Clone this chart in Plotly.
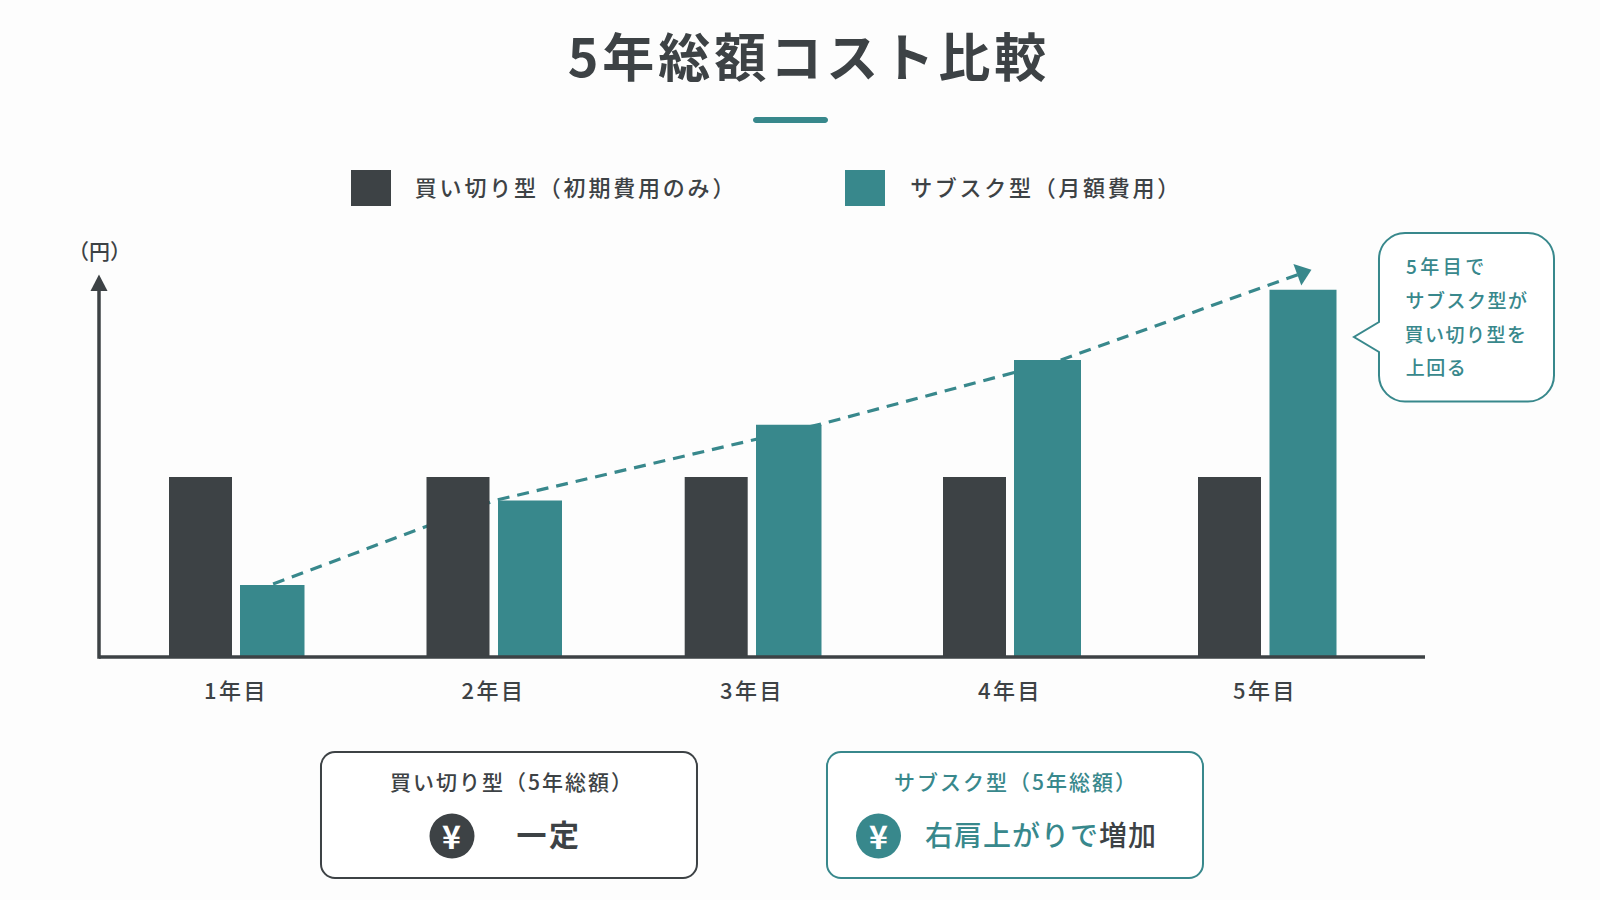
import json
import plotly.graph_objects as go

# Chart data (arbitrary cost units: the one-time purchase is 100)
categories = [0, 1, 2, 3, 4]
tick_positions = [0, 1, 2.004, 3.006, 3.996]
tick_labels = ["1年目", "2年目", "3年目", "4年目", "5年目"]
one_time_cost = [100, 100, 100, 100, 100]
subscription_cost = [40, 87, 129, 165, 204]
trend_x = [0.144, 1.006, 2.272, 3.204, 4.14]
trend_y = [40.5, 87, 129.4, 165, 213.3]

DARK = "#3d4245"
TEAL = "#38888c"
BG = "#fdfdfd"
FONT = "Noto Sans CJK JP"
W, H = 1600, 900

# Plot frame and scale, in pixels
BASE_Y = 657
TOP_Y = 258
LEFT_X, RIGHT_X = 99, 1425
PX_PER_STEP = 257.5
FIRST_X = 236
PX_PER_UNIT = 1.8

# Bar placement within each year, in pixels relative to the year's centre
dark_offset = [-67, -67, -66.3, -65.5, -68]
dark_width = [63, 63, 63, 63, 63]
teal_offset = [4, 4.5, 5, 5.5, 3.5]
teal_width = [64.5, 64, 65.5, 67, 67]


def px(x):
    return x / W


def py(y):
    return 1 - y / H


def p(x, y):
    return f"{px(x):.5f},{py(y):.5f}"


def round_rect(x0, y0, x1, y1, r):
    k = 0.45 * r
    return (
        f"M{p(x0 + r, y0)} L{p(x1 - r, y0)} C{p(x1 - k, y0)} {p(x1, y0 + k)} {p(x1, y0 + r)} "
        f"L{p(x1, y1 - r)} C{p(x1, y1 - k)} {p(x1 - k, y1)} {p(x1 - r, y1)} "
        f"L{p(x0 + r, y1)} C{p(x0 + k, y1)} {p(x0, y1 - k)} {p(x0, y1 - r)} "
        f"L{p(x0, y0 + r)} C{p(x0, y0 + k)} {p(x0 + k, y0)} {p(x0 + r, y0)} Z"
    )


def callout(x0, y0, x1, y1, r, tip_x, tip_y, base0, base1):
    k = 0.45 * r
    return (
        f"M{p(x0 + r, y0)} L{p(x1 - r, y0)} C{p(x1 - k, y0)} {p(x1, y0 + k)} {p(x1, y0 + r)} "
        f"L{p(x1, y1 - r)} C{p(x1, y1 - k)} {p(x1 - k, y1)} {p(x1 - r, y1)} "
        f"L{p(x0 + r, y1)} C{p(x0 + k, y1)} {p(x0, y1 - k)} {p(x0, y1 - r)} "
        f"L{p(x0, base1)} L{p(tip_x, tip_y)} L{p(x0, base0)} "
        f"L{p(x0, y0 + r)} C{p(x0, y0 + k)} {p(x0 + k, y0)} {p(x0 + r, y0)} Z"
    )


def circle(cx, cy, r, color):
    return dict(type="circle", xref="paper", yref="paper", x0=px(cx - r), x1=px(cx + r),
                y0=py(cy + r), y1=py(cy - r), fillcolor=color, line=dict(width=0))


def axis_line(x0, y0, x1, y1):
    return dict(type="line", xref="paper", yref="paper", x0=px(x0), x1=px(x1), y0=py(y0), y1=py(y1),
                line=dict(color=DARK, width=3.5))


annotations, spacings = [], []


def label(text, x, y, size, color, weight=500, anchor="center", spacing=0):
    annotations.append(dict(text=text, x=px(x), y=py(y), xref="paper", yref="paper",
                            xanchor=anchor, yanchor="middle", showarrow=False,
                            font=dict(family=FONT, size=size, color=color, weight=weight)))
    spacings.append(spacing)


fig = go.Figure()
# The trend sits on the base axes so that the bars, on the overlaying axes, cover it
fig.add_scatter(x=trend_x, y=trend_y, mode="lines", cliponaxis=False,
                line=dict(color=TEAL, width=3.2, dash="12px,8px"))
fig.add_scatter(x=trend_x[-1:], y=trend_y[-1:], mode="markers", cliponaxis=False, opacity=1,
                marker=dict(symbol="triangle-up", angle=70, color=TEAL, size=20, opacity=1,
                            line=dict(width=0)))
fig.add_bar(x=categories, y=one_time_cost, name="買い切り型（初期費用のみ）", xaxis="x2", yaxis="y2",
            offset=[v / PX_PER_STEP for v in dark_offset],
            width=[v / PX_PER_STEP for v in dark_width],
            marker=dict(color=DARK, line=dict(width=0)))
fig.add_bar(x=categories, y=subscription_cost, name="サブスク型（月額費用）", xaxis="x2", yaxis="y2",
            offset=[v / PX_PER_STEP for v in teal_offset],
            width=[v / PX_PER_STEP for v in teal_width],
            marker=dict(color=TEAL, line=dict(width=0)))

shapes = [
    # Accent rule under the title
    dict(type="path", xref="paper", yref="paper", path=round_rect(753, 117, 828, 123, 3),
         fillcolor=TEAL, line=dict(width=0)),
    # Legend swatches
    dict(type="rect", xref="paper", yref="paper", x0=px(351), x1=px(391), y0=py(206), y1=py(170),
         fillcolor=DARK, line=dict(width=0)),
    dict(type="rect", xref="paper", yref="paper", x0=px(845), x1=px(885), y0=py(206), y1=py(170),
         fillcolor=TEAL, line=dict(width=0)),
    # Axes and the arrowhead on the vertical one
    axis_line(LEFT_X, 288, LEFT_X, BASE_Y + 1.7),
    axis_line(LEFT_X, BASE_Y, RIGHT_X, BASE_Y),
    dict(type="path", xref="paper", yref="paper",
         path=f"M{p(99, 274.5)} L{p(107.5, 291)} L{p(90.5, 291)} Z",
         fillcolor=DARK, line=dict(width=0)),
    # Speech bubble
    dict(type="path", xref="paper", yref="paper",
         path=callout(1379, 233, 1554, 401.5, 26, 1354, 337, 322, 352),
         fillcolor="#ffffff", line=dict(color=TEAL, width=2)),
    # Summary cards
    dict(type="path", xref="paper", yref="paper", path=round_rect(321, 752, 697, 878, 14),
         fillcolor="#ffffff", line=dict(color=DARK, width=2)),
    dict(type="path", xref="paper", yref="paper", path=round_rect(827, 752, 1203, 878, 14),
         fillcolor="#ffffff", line=dict(color=TEAL, width=2)),
    circle(452, 836, 22.5, DARK),
    circle(878.5, 836, 22.5, TEAL),
]

label("買い切り型（初期費用のみ）", 431, 186, 22, DARK, anchor="left", spacing=2.8)
label("サブスク型（月額費用）", 923, 186, 22, DARK, anchor="left", spacing=2.7)
label("（円）", 99, 250, 21, DARK)
label("5年目で", 1411, 265, 19, TEAL, anchor="left", spacing=3.5)
label("サブスク型が", 1407.5, 299.5, 19, TEAL, anchor="left", spacing=1.5)
label("買い切り型を", 1407, 333, 19, TEAL, anchor="left", spacing=1.5)
label("上回る", 1406, 366, 19, TEAL, anchor="left", spacing=1.5)
label("買い切り型（5年総額）", 511.5, 781, 21, DARK, spacing=2)
label("サブスク型（5年総額）", 1016.5, 781, 21, TEAL, spacing=2)
label("¥", 452, 835, 32, "#ffffff", weight=700)
label("¥", 878.5, 835, 32, "#ffffff", weight=700)
label("一定", 548.5, 833, 30, DARK, weight=700, spacing=2.5)
label(f'右肩上がりで<span style="color:{DARK}">増加</span>', 1040.5, 834, 28, TEAL, spacing=1)

x_range = [(LEFT_X - FIRST_X) / PX_PER_STEP, (RIGHT_X - FIRST_X) / PX_PER_STEP]
y_range = [0, (BASE_Y - TOP_Y) / PX_PER_UNIT]
domain_x = [px(LEFT_X), px(RIGHT_X)]
domain_y = [py(BASE_Y), py(TOP_Y)]

fig.update_layout(
    width=W, height=H, autosize=False,
    margin=dict(l=0, r=0, t=0, b=0),
    paper_bgcolor=BG, plot_bgcolor=BG,
    barmode="overlay", showlegend=False, hovermode=False,
    title=dict(text="5年総額コスト比較", x=809 / W, y=py(59), xanchor="center", yanchor="middle",
               font=dict(family=FONT, size=52, color=DARK, weight=700)),
    xaxis=dict(domain=domain_x, range=x_range, tickmode="array",
               tickvals=tick_positions, ticktext=tick_labels, showgrid=False, zeroline=False,
               showline=False, ticks="outside", ticklen=15, tickcolor="rgba(0,0,0,0)",
               tickfont=dict(family=FONT, size=22, color=DARK, weight=500)),
    yaxis=dict(domain=domain_y, range=y_range, showticklabels=False, showgrid=False,
               zeroline=False, showline=False, ticks=""),
    xaxis2=dict(overlaying="x", range=x_range, visible=False),
    yaxis2=dict(overlaying="y", range=y_range, visible=False),
    shapes=shapes,
    annotations=annotations,
)

# Plotly has no letter-spacing option, so it is applied to the rendered text
script = (
    "var s=" + json.dumps(spacings) + ";"
    "document.querySelectorAll('g.annotation').forEach(function(g){"
    "var i=+g.getAttribute('data-index');"
    "g.querySelectorAll('text').forEach(function(t){t.style.letterSpacing=s[i]+'px';});});"
    "document.querySelectorAll('.gtitle').forEach(function(t){t.style.letterSpacing='4px';});"
    "document.querySelectorAll('.xtick text').forEach(function(t){t.style.letterSpacing='2.5px';});"
)
fig.write_html("out.html", config={"displayModeBar": False}, post_script=script)
